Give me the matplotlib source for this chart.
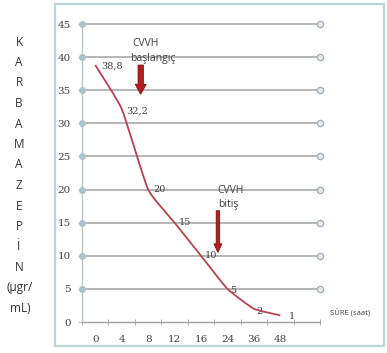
import matplotlib
matplotlib.use("Agg")
import matplotlib.pyplot as plt
from matplotlib.path import Path
from matplotlib.patches import PathPatch, FancyArrow, Rectangle
import numpy as np

# Sampling times (hours) and carbamazepine levels (µgr/mL)
time_labels = ["0", "4", "8", "12", "16", "24", "36", "48", ""]
levels = [38.8, 32.2, 20, 15, 10, 5, 2, 1]
level_labels = ["38,8", "32,2", "20", "15", "10", "5", "2", "1"]
y_ticks = [0, 5, 10, 15, 20, 25, 30, 35, 40, 45]
ylabel_lines = ["K", "A", "R", "B", "A", "M", "A", "Z", "E", "P", "İ", "N", "(µgr/", "mL)"]

W, H = 387, 353
fig = plt.figure(figsize=(W / 100, H / 100), dpi=100)
fig.patch.set_facecolor("white")

# outer chart border
fig.add_artist(Rectangle((55 / W, 1 - 346 / H), 329 / W, 342 / H,
                         transform=fig.transFigure, fill=False,
                         edgecolor="#bcd6de", linewidth=1.6))

ax = fig.add_axes([82 / W, 1 - 322 / H, 238 / W, 298 / H])
ax.set_xlim(-0.5, len(time_labels) - 0.5)
ax.set_ylim(0, 45)
for s in ["top", "right"]:
    ax.spines[s].set_visible(False)
ax.spines["left"].set_color("#b8c8cf")
ax.spines["bottom"].set_color("#a0a0a0")
ax.spines["left"].set_linewidth(1.0)
ax.spines["bottom"].set_linewidth(1.0)

grid_col = "#a9a9a9"
for v in y_ticks[1:]:
    ax.plot([-0.5, len(time_labels) - 0.5], [v, v], color=grid_col, lw=1.2,
            solid_capstyle="butt", zorder=1, clip_on=False)
    ax.plot([-0.5], [v], marker="o", ms=4, color="#a9c3cd", mec="#a9c3cd",
            clip_on=False, zorder=3)
    ax.plot([len(time_labels) - 0.5], [v], marker="o", ms=4.5, mfc="#e4ecef",
            mec="#9fb3bb", mew=1.0, clip_on=False, zorder=3)

ax.set_yticks(y_ticks)
ax.set_yticklabels([str(t) for t in y_ticks], fontsize=7.5, color="#404040",
                   family="DejaVu Serif")
ax.tick_params(axis="y", length=3, color="#b8c8cf", pad=5)

ax.set_xticks(np.arange(len(time_labels)))
ax.set_xticklabels(time_labels, fontsize=7.5, color="#404040", family="DejaVu Serif")
ax.set_xticks(np.arange(len(time_labels) + 1) - 0.5, minor=True)
ax.tick_params(axis="x", which="major", length=0, pad=9)
ax.tick_params(axis="x", which="minor", length=4, direction="inout", color="#a0a0a0")

# lightly smoothed concentration curve through the data (Bezier joins)
xs = np.arange(len(levels), dtype=float)
ys = np.array(levels, dtype=float)
verts = [(xs[0], ys[0])]
codes = [Path.MOVETO]
n = len(xs)
t = 1 / 14
for i in range(n - 1):
    p0 = (xs[max(i - 1, 0)], ys[max(i - 1, 0)])
    p1 = (xs[i], ys[i])
    p2 = (xs[i + 1], ys[i + 1])
    p3 = (xs[min(i + 2, n - 1)], ys[min(i + 2, n - 1)])
    c1 = (p1[0] + (p2[0] - p0[0]) * t, p1[1] + (p2[1] - p0[1]) * t)
    c2 = (p2[0] - (p3[0] - p1[0]) * t, p2[1] - (p3[1] - p1[1]) * t)
    verts += [c1, c2, p2]
    codes += [Path.CURVE4] * 3
ax.add_patch(PathPatch(Path(verts, codes), fill=False, edgecolor="#b8424c",
                       lw=1.3, zorder=4))

# value labels beside each point
offsets = [(4, -1), (3, -2), (4, 0), (3, 0), (3, 0), (2, -1), (2, -2), (6, -1)]
for x, y, lab, (dx, dy) in zip(xs, ys, level_labels, offsets):
    ax.annotate(lab, (x, y), xytext=(dx, dy), textcoords="offset points",
                fontsize=7, color="#404040", family="DejaVu Serif",
                ha="left", va="center", zorder=5)

# CVVH start / end markers
arrow_kw = dict(length_includes_head=True, color="#b41e1e", ec="#7a1010",
                lw=0.6, zorder=6)
ax.add_patch(FancyArrow(1.72, 38.8, 0, -4.4, width=0.2, head_width=0.42,
                        head_length=1.5, **arrow_kw))
ax.add_patch(FancyArrow(4.64, 16.8, 0, -6.3, width=0.13, head_width=0.3,
                        head_length=1.3, **arrow_kw))

ax.text(1.39, 42.0, "CVVH", fontsize=7.5, color="#404040", family="Open Sans",
        ha="left", va="center")
ax.text(1.31, 39.8, "başlangıç", fontsize=7.5, color="#404040", family="Open Sans",
        ha="left", va="center")
ax.text(4.62, 19.9, "CVVH", fontsize=7.5, color="#404040", family="Open Sans",
        ha="left", va="center")
ax.text(4.66, 17.8, "bitiş", fontsize=7.5, color="#404040", family="Open Sans",
        ha="left", va="center")

fig.text(330 / W, 1 - 313 / H, "SÜRE (saat)", fontsize=5.5, color="#404040",
         family="Open Sans", ha="left", va="center")

# vertical drug name label
for i, s in enumerate(ylabel_lines):
    fig.text((19 if len(s) == 1 else 20) / W, 1 - (42 + 20.5 * i) / H, s,
             fontsize=8.5, color="#333333", family="Open Sans",
             ha="center", va="center")

fig.savefig("out.png", dpi=100, facecolor="white")
